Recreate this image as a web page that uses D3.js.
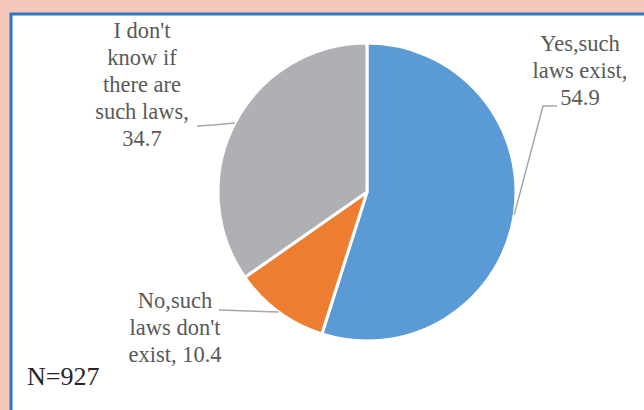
<!DOCTYPE html>
<html>
<head>
<meta charset="utf-8">
<script src="https://cdn.jsdelivr.net/npm/d3@7"></script>
<style>
  body { margin: 0; background: #f6c8bb; }
  svg { display: block; }
  text { font-family: "Liberation Serif", Tinos, "Times New Roman", Times, "DejaVu Serif", serif; }
</style>
</head>
<body>
<div id="chart-area"></div>
<script>
// data
var categories = ["Yes,such laws exist", "No,such laws don't exist", "I don't know if there are such laws"];
var values = [54.9, 10.4, 34.7];
var colors = ["#5b9bd5", "#ed7d31", "#afb0b4"];
var labelLines = [
	["Yes,such", "laws exist,", "54.9"],
	["No,such", "laws don't", "exist, 10.4"],
	["I don't", "know if", "there are", "such laws,", "34.7"]
];
var sampleNote = "N=927";

var width = 644, height = 410;
var cx = 367, cy = 192, radius = 149;

var svg = d3.select("#chart-area")
	.append("svg")
	.attr("width", width)
	.attr("height", height);

// frame
svg.append("rect")
	.attr("x", 11)
	.attr("y", 14)
	.attr("width", width)
	.attr("height", height)
	.attr("fill", "#ffffff")
	.attr("stroke", "#2e75c0")
	.attr("stroke-width", 3);

var g = svg.append("g")
	.attr("transform", "translate(" + cx + "," + cy + ")");

var pie = d3.pie().sort(null).value(function (d) { return d; });
var arcs = pie(values);

var arc = d3.arc().innerRadius(0).outerRadius(radius);

g.selectAll(".slice")
	.data(arcs)
	.enter()
	.append("path")
	.attr("class", "slice")
	.attr("d", arc)
	.attr("fill", function (d, i) { return colors[i]; })
	.attr("stroke", "#ffffff")
	.attr("stroke-width", 3)
	.attr("stroke-linejoin", "round");

// point on the rim at the middle of each slice
function rimPoint(d) {
	var a = (d.startAngle + d.endAngle) / 2;
	return [cx + radius * Math.sin(a), cy - radius * Math.cos(a)];
}

// label placement (center x, first baseline y) and leader bends
var labelPos = [[580, 51], [175, 308], [142, 38]];
var leaderBends = [
	[[543, 106], [557, 106]],
	[[219, 310]],
	[[213, 125], [197, 126]]
];

arcs.forEach(function (d, i) {
	var p = rimPoint(d);
	var pts = [p].concat(leaderBends[i]);
	svg.append("path")
		.attr("d", d3.line()(pts))
		.attr("fill", "none")
		.attr("stroke", "#a6a6a6")
		.attr("stroke-width", 1.5);

	var t = svg.append("text")
		.attr("x", labelPos[i][0])
		.attr("y", labelPos[i][1])
		.attr("text-anchor", "middle")
		.attr("font-size", "22.5px")
		.attr("fill", "#595959");
	labelLines[i].forEach(function (line, j) {
		t.append("tspan")
			.attr("x", labelPos[i][0])
			.attr("dy", j === 0 ? 0 : 27)
			.text(line);
	});
});

svg.append("text")
	.attr("x", 27)
	.attr("y", 385)
	.attr("font-size", "26px")
	.attr("fill", "#262626")
	.text(sampleNote);
</script>
</body>
</html>
